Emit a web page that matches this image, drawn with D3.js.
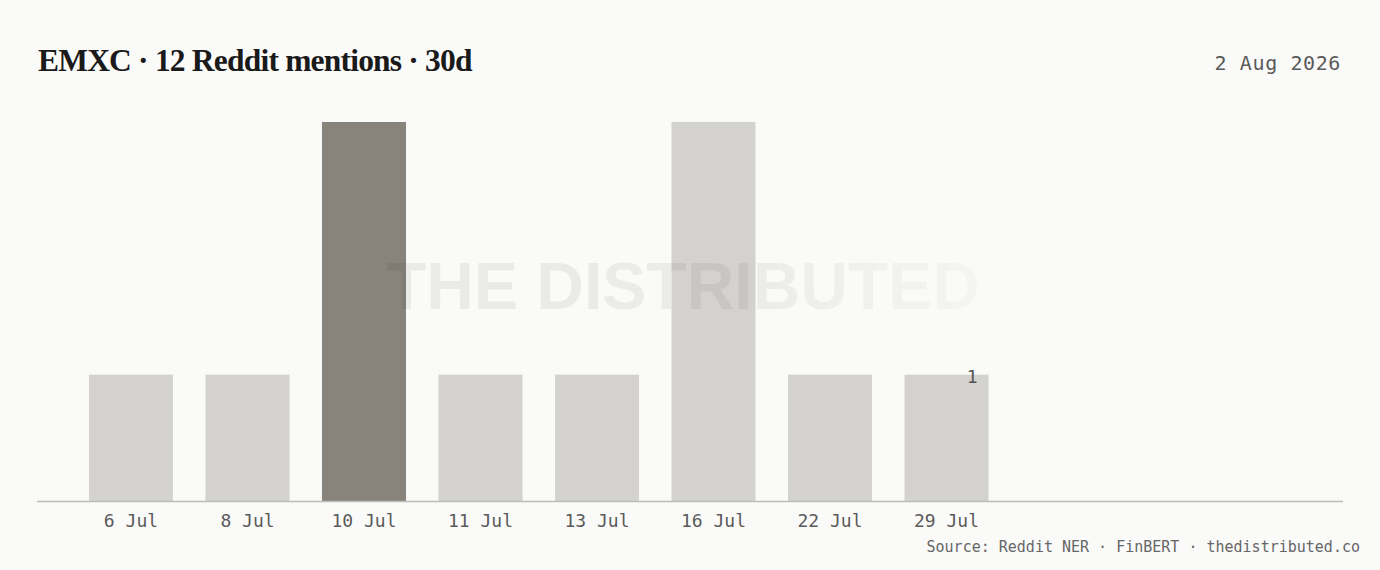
<!DOCTYPE html>
<html>
<head>
<meta charset="utf-8">
<script src="https://cdn.jsdelivr.net/npm/d3@7"></script>
<style>
  html, body { margin: 0; padding: 0; background: #fafaf9; }
  svg { display: block; }
  .mono { font-family: "DejaVu Sans Mono", "Liberation Mono", monospace; }
</style>
</head>
<body>
<svg id="chart" width="1380" height="570"></svg>
<script>
const dates = ['6 Jul', '8 Jul', '10 Jul', '11 Jul', '13 Jul', '16 Jul', '22 Jul', '29 Jul'];
const mentions = [1, 1, 3, 1, 1, 3, 1, 1];
const highlight = '10 Jul';
const titleText = 'EMXC · 12 Reddit mentions · 30d';
const dateText = '2 Aug 2026';
const sourceText = 'Source: Reddit NER · FinBERT · thedistributed.co';

const W = 1380, H = 570;
const base = 501;
const svg = d3.select('#chart');

svg.append('rect').attr('width', W).attr('height', H).attr('fill', '#fafaf9');

const x = d3.scaleBand()
  .domain(dates)
  .range([37, 1040.5])
  .paddingInner(0.279)
  .paddingOuter(0.446);

const y = d3.scaleLinear()
  .domain([0, 3])
  .range([base, 122]);

// bars
svg.append('g')
  .selectAll('rect')
  .data(dates.map((d, i) => ({ date: d, v: mentions[i] })))
  .enter()
  .append('rect')
  .attr('x', d => x(d.date))
  .attr('y', d => y(d.v))
  .attr('width', x.bandwidth())
  .attr('height', d => y(0) - y(d.v))
  .attr('fill', d => (d.date === highlight ? '#88847b' : '#d3d2ce'));

// value label on the latest bar
const last = dates[dates.length - 1];
svg.append('text')
  .attr('class', 'mono')
  .attr('x', x(last) + x.bandwidth() - 11)
  .attr('y', y(mentions[mentions.length - 1]) + 8)
  .attr('text-anchor', 'end')
  .attr('font-size', 18)
  .attr('fill', '#555')
  .text(mentions[mentions.length - 1]);

// baseline
svg.append('line')
  .attr('x1', 37).attr('x2', 1343)
  .attr('y1', base + 0.5).attr('y2', base + 0.5)
  .attr('stroke', '#bdbcb8')
  .attr('stroke-width', 1.5);

// x axis labels
const xAxis = svg.append('g')
  .attr('transform', `translate(0,${base})`)
  .call(d3.axisBottom(x).tickSize(0).tickPadding(13));
xAxis.select('.domain').remove();
xAxis.selectAll('text')
  .attr('class', 'mono')
  .attr('font-size', 18)
  .attr('fill', '#5a5a5a');

// watermark
const defs = svg.append('defs');
const grad = defs.append('linearGradient')
  .attr('id', 'wm')
  .attr('gradientUnits', 'userSpaceOnUse')
  .attr('x1', 385).attr('x2', 985).attr('y1', 0).attr('y2', 0);
grad.append('stop').attr('offset', '0').attr('stop-color', '#000').attr('stop-opacity', 0.065);
grad.append('stop').attr('offset', '0.6').attr('stop-color', '#000').attr('stop-opacity', 0.058);
grad.append('stop').attr('offset', '1').attr('stop-color', '#000').attr('stop-opacity', 0.02);
defs.append('filter').attr('id', 'soft')
  .append('feGaussianBlur').attr('stdDeviation', 0.6);

svg.append('text')
  .attr('x', 683)
  .attr('y', 309)
  .attr('text-anchor', 'middle')
  .attr('font-family', 'Liberation Sans, Arial, sans-serif')
  .attr('font-weight', 'bold')
  .attr('font-size', 66)
  .attr('fill', 'url(#wm)')
  .attr('filter', 'url(#soft)')
  .text('THE DISTRIBUTED');

// title
svg.append('text')
  .attr('x', 38)
  .attr('y', 71)
  .attr('font-family', 'Liberation Serif, DejaVu Serif, serif')
  .attr('font-weight', 'bold')
  .attr('font-size', 31.5)
  .attr('letter-spacing', -0.8)
  .attr('fill', '#1a1a1a')
  .text(titleText);

// date
svg.append('text')
  .attr('class', 'mono')
  .attr('x', 1341)
  .attr('y', 70)
  .attr('text-anchor', 'end')
  .attr('font-size', 20)
  .attr('letter-spacing', 0.6)
  .attr('fill', '#5a5a5a')
  .text(dateText);

// source
svg.append('text')
  .attr('class', 'mono')
  .attr('x', 1360)
  .attr('y', 552)
  .attr('text-anchor', 'end')
  .attr('font-size', 15)
  .attr('fill', '#666')
  .text(sourceText);
</script>
</body>
</html>
